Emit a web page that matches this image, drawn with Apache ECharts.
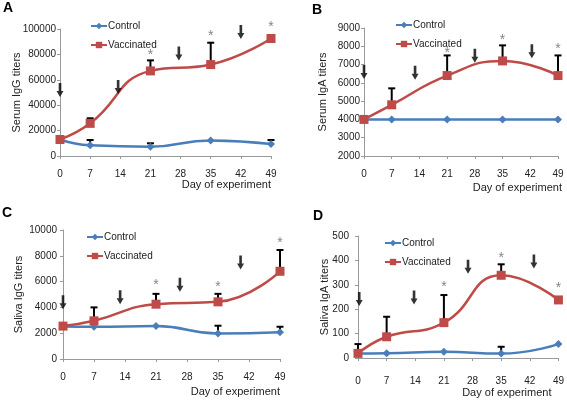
<!DOCTYPE html>
<html><head><meta charset="utf-8">
<script src="https://cdn.jsdelivr.net/npm/echarts@6/dist/echarts.min.js"></script>
<style>html,body{margin:0;padding:0;background:#fff}#c{width:567px;height:400px}</style>
</head><body><div id="c"></div>
<script>
const days = [0, 7, 21, 35, 49];
const xTicks = [0, 7, 14, 21, 28, 35, 42, 49];
const seriesNames = ['Control', 'Vaccinated'];
const panelLetters = ['A', 'B', 'C', 'D'];
const yNames = ['Serum IgG titers', 'Serum IgA titers', 'Saliva IgG titers', 'Saliva IgA titers'];
const xName = 'Day of experiment';
const yRanges = [[0, 100000, 20000], [2000, 9000, 1000], [0, 10000, 2000], [0, 500, 100]];

// Panel A
const ctrlA = [13000, 8400, 7300, 12300, 9400];
const vaccA = [13000, 25700, 67000, 72000, 92500];
const ctrlErrA = [null, 12600, 10000, null, 12600];
const vaccErrA = [null, 29700, 75300, 89200, null];
const arrowsA = [[0, 52000], [13.5, 54300], [27.6, 80700], [42, 97600]];
const starsA = [[21, 82000], [35, 96900], [49, 103900]];
// Panel B
const ctrlB = [4000, 4000, 4000, 4000, 4000];
const vaccB = [4000, 4800, 6400, 7200, 6400];
const ctrlErrB = [null, null, null, null, null];
const vaccErrB = [null, 5700, 7500, 8050, 7500];
const arrowsB = [[0, 6600], [12.9, 6550], [28, 7480], [42.4, 7730]];
const starsB = [[21, 7780], [35, 8480], [49, 8000]];
// Panel C
const ctrlC = [2520, 2500, 2550, 1980, 2080];
const vaccC = [2550, 2960, 4250, 4430, 6800];
const ctrlErrC = [null, null, null, 2580, 2500];
const vaccErrC = [null, 4000, 5050, 5050, 8450];
const arrowsC = [[0, 4390], [12.9, 4780], [26.4, 5750], [40.1, 7490]];
const starsC = [[21, 5920], [35, 5820], [49, 9230]];
// Panel D
const ctrlD = [18, 19, 26, 18, 57];
const vaccD = [19, 87, 145, 339, 238];
const ctrlErrD = [null, null, null, 46, null];
const vaccErrD = [57, 169, 258, 384, null];
const arrowsD = [[0.3, 242], [13.7, 248], [26.9, 374], [43, 395]];
const starsD = [[21, 303], [35, 422], [49, 299]];

const panels = [
  {ctrl: ctrlA, vacc: vaccA, ce: ctrlErrA, ve: vaccErrA, arrows: arrowsA, stars: starsA},
  {ctrl: ctrlB, vacc: vaccB, ce: ctrlErrB, ve: vaccErrB, arrows: arrowsB, stars: starsB},
  {ctrl: ctrlC, vacc: vaccC, ce: ctrlErrC, ve: vaccErrC, arrows: arrowsC, stars: starsC},
  {ctrl: ctrlD, vacc: vaccD, ce: ctrlErrD, ve: vaccErrD, arrows: arrowsD, stars: starsD}
];

// layout
const grids = [
  {left: 60, top: 29, width: 211, height: 127},
  {left: 364, top: 28, width: 194, height: 128},
  {left: 63, top: 230, width: 217, height: 129},
  {left: 358, top: 236, width: 203, height: 122}
];
const yNameGaps = [38, 36, 39, 28];
const yLabelMargins = [4, 4, 6, 9];
const xLabelMargins = [13, 13, 13, 18];
const xNamePad = [23, 26, 27, 29];
const xNameGap = [0, 4, 0, -7];
const legendPos = [[90, 20], [395, 19], [86, 231], [384, 237]];
const letterPos = [[3, 1], [312, 3], [2, 206], [313, 209]];

const BLUE = '#4a7ebb', RED = '#be4b48';
const FONT = 'Liberation Sans, Arial, sans-serif';
const arrowPath = 'path://M2.5,0 L5.5,0 L5.5,8 L8,8 L4,14 L0,8 L2.5,8 Z';

const option = {
  animation: false,
  textStyle: {fontFamily: FONT},
  grid: grids.map(g => Object.assign({containLabel: false}, g)),
  xAxis: grids.map((g, i) => ({
    type: 'value', gridIndex: i, min: 0, max: 49, interval: 7,
    splitLine: {show: false},
    axisLine: {lineStyle: {color: '#999', width: 1}},
    axisTick: {show: true, length: 3, lineStyle: {color: '#999'}},
    axisLabel: {fontSize: 10, color: '#222', margin: xLabelMargins[i], fontFamily: FONT, formatter: v => String(v)},
    name: xName, nameLocation: 'end', nameGap: xNameGap[i],
    nameTextStyle: {fontSize: 11, color: '#222', align: 'right', verticalAlign: 'top', padding: [xNamePad[i], 0, 0, 0], fontFamily: FONT}
  })),
  yAxis: grids.map((g, i) => ({
    type: 'value', gridIndex: i, min: yRanges[i][0], max: yRanges[i][1], interval: yRanges[i][2],
    splitLine: {show: false},
    axisLine: {show: true, lineStyle: {color: '#999', width: 1}},
    axisTick: {show: true, length: 3, lineStyle: {color: '#999'}},
    axisLabel: {fontSize: 10, color: '#222', margin: yLabelMargins[i], fontFamily: FONT, formatter: v => String(v)},
    name: yNames[i], nameLocation: 'middle', nameGap: yNameGaps[i], nameMoveOverlap: false,
    nameTextStyle: {fontSize: 11, color: '#222', fontFamily: FONT}
  })),
  legend: legendPos.map((p, i) => ({
    data: seriesNames, orient: 'vertical', left: p[0], top: p[1], padding: 0,
    itemWidth: 16, itemHeight: 8, itemGap: 7,
    textStyle: {fontSize: 10, color: '#222', lineHeight: 12, fontFamily: FONT, padding: [0, 0, 0, -4]},
    selectedMode: false
  })),
  graphic: letterPos.map((p, i) => ({
    type: 'text', left: p[0], top: p[1],
    style: {text: panelLetters[i], font: 'bold 14px ' + FONT, fill: '#000'}
  })),
  series: []
};

function errData(vals, errs) {
  const out = [];
  errs.forEach((t, k) => { if (t !== null) out.push([days[k], vals[k], t]); });
  return out;
}
function renderErr(params, api) {
  const x = api.value(0), m = api.value(1), t = api.value(2);
  const p0 = api.coord([x, m]), p1 = api.coord([x, t]);
  return {type: 'group', children: [
    {type: 'line', shape: {x1: p0[0], y1: p0[1], x2: p1[0], y2: p1[1]}, style: {stroke: '#000', lineWidth: 2}},
    {type: 'line', shape: {x1: p1[0] - 3.5, y1: p1[1], x2: p1[0] + 3.5, y2: p1[1]}, style: {stroke: '#000', lineWidth: 2}}
  ]};
}

panels.forEach((p, i) => {
  option.series.push({
    type: 'custom', xAxisIndex: i, yAxisIndex: i, renderItem: renderErr,
    data: errData(p.ctrl, p.ce).concat(errData(p.vacc, p.ve)), encode: {x: 0, y: [1, 2]}, z: 1, clip: false
  });
  option.series.push({
    name: 'Control', type: 'line', xAxisIndex: i, yAxisIndex: i, smooth: 0.5,
    data: days.map((d, k) => [d, p.ctrl[k]]),
    symbol: 'diamond', symbolSize: 8, showAllSymbol: true,
    lineStyle: {color: BLUE, width: 2.5}, itemStyle: {color: BLUE}, z: 2
  });
  option.series.push({
    name: 'Vaccinated', type: 'line', xAxisIndex: i, yAxisIndex: i, smooth: 0.5,
    data: days.map((d, k) => [d, p.vacc[k]]),
    symbol: 'rect', symbolSize: 9, showAllSymbol: true,
    lineStyle: {color: RED, width: 2.5}, itemStyle: {color: RED}, z: 3
  });
  option.series.push({
    type: 'scatter', xAxisIndex: i, yAxisIndex: i, data: p.arrows, clip: false,
    symbol: arrowPath, symbolSize: [7, 14], itemStyle: {color: '#000'}, z: 4, silent: true
  });
  option.series.push({
    type: 'scatter', xAxisIndex: i, yAxisIndex: i, data: p.stars, clip: false,
    symbol: 'circle', symbolSize: 1, itemStyle: {color: 'transparent'}, z: 4, silent: true,
    label: {show: true, position: 'inside', formatter: '*', fontSize: 14, color: '#666', offset: [0, 3], fontFamily: FONT}
  });
});

const chart = echarts.init(document.getElementById('c'), null, {renderer: 'canvas'});
chart.setOption(option);
</script>
</body></html>
